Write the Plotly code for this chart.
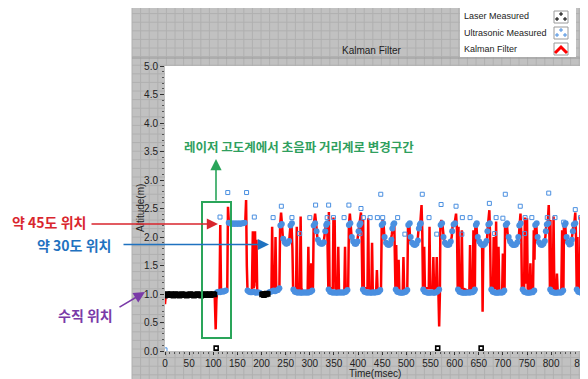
import plotly.graph_objects as go

# ---------------- data ----------------
series_names = ["Laser Measured", "Ultrasonic Measured", "Kalman Filter"]

# Kalman filter output: (time msec, altitude m)
kalman_pts = [
    (0, 0.82), (1.5, 0.97), (4, 1.0), (15, 0.99), (30, 1.0), (45, 0.99), (60, 1.0), (75, 0.99), (90, 1.0),
    (100, 0.99), (103, 0.97), (105, 0.38), (106.5, 0.9), (108, 1.02),
    (111, 1.03), (113, 1.05), (114.5, 2.21), (116, 1.1), (118, 1.03), (124, 1.04), (127, 1.05), (129, 1.1),
    (130.5, 2.53), (132, 2.3), (134, 2.24), (145, 2.23), (155, 2.24), (165, 2.25), (166.5, 2.3), (168, 2.65),
    (169.5, 1.5), (171, 1.05),
    (175, 1.03), (180, 1.05), (182, 2.1), (183.5, 1.1), (185, 1.15), (186.5, 2.1), (188, 1.2), (189.5, 1.95),
    (191, 1.05), (200, 1.02), (210, 1.01), (218, 1.03), (220.5, 1.05), (222, 2.18), (223.5, 1.1), (227.5, 1.1),
    (229, 2.0), (230.5, 1.05), (235, 1.05),
    (237, 1.1), (238.5, 2.2), (240.5, 2.43), (242.5, 2.2), (244.5, 1.95), (248, 1.88), (252, 1.86), (256, 1.9),
    (258, 2.0), (260, 2.21), (262, 2.24), (264, 1.8), (265.5, 1.05),
    (271.5, 1.05), (273, 2.18), (274.5, 1.1), (279.5, 1.08), (281, 2.36), (282.5, 1.1), (286, 1.03),
    (295.5, 1.05), (297, 1.83), (298.5, 1.05), (301.5, 1.05), (303, 1.54), (304.5, 1.05),
    (306.5, 1.1), (308, 2.2), (311, 2.41), (313.5, 2.2), (316, 1.95), (320, 1.89), (325, 1.87), (329, 1.92),
    (331, 2.05), (333, 2.21), (336, 2.24), (337.5, 1.5), (338.5, 1.05),
    (339.5, 2.44), (341, 1.1), (347.5, 1.1), (349, 2.34), (350.5, 1.5), (351.5, 2.3), (353, 1.1), (357.5, 1.05),
    (359, 1.83), (360.5, 1.05), (371.5, 1.05), (373, 1.83), (374.5, 1.05), (378, 1.05),
    (379.5, 1.1), (381, 2.2), (383, 2.41), (385, 2.2), (387, 1.95), (391, 1.88), (395, 1.86), (398, 1.9),
    (400, 2.05), (402, 2.21), (404, 2.25), (406, 2.43), (407.5, 2.0), (409, 1.05),
    (410.5, 2.3), (412, 1.1), (419.5, 1.1), (421, 2.33), (422.5, 1.1), (427.5, 1.05), (429, 1.9), (430.5, 1.05),
    (437.5, 1.05), (439, 1.42), (440.5, 1.05), (446, 1.05),
    (447.5, 1.1), (449, 2.2), (451, 2.3), (453, 2.2), (455, 1.95), (459, 1.88), (463, 1.86), (467, 1.9),
    (470, 2.05), (472, 2.21), (475, 2.24), (476.5, 1.6), (477.5, 1.05),
    (479, 1.86), (480.5, 1.1), (482.5, 1.1), (484, 1.6), (485.5, 1.05), (492.5, 1.05), (494, 1.65),
    (495.5, 1.05), (501, 1.05),
    (502, 1.1), (503.5, 2.2), (506, 2.24), (508, 1.95), (512, 1.88), (516, 1.86), (521, 1.89), (524, 2.0),
    (526, 2.21), (529, 2.25), (531.5, 2.56), (533, 2.1), (534.5, 1.05),
    (537, 1.83), (538.5, 1.1), (546.5, 1.1), (548, 2.18), (549.5, 1.1), (554.5, 1.1), (556, 1.65), (557.5, 1.05),
    (561.5, 1.05), (563, 1.65), (564.5, 1.05), (566.5, 1.0), (568, 0.43), (569.5, 1.0),
    (570.5, 2.2), (572.5, 2.3), (575, 2.2), (578, 1.95), (582, 1.88), (586, 1.86), (591, 1.9), (594, 2.0),
    (596, 2.21), (600, 2.24), (603, 2.41), (605, 2.1), (606.5, 1.05),
    (608, 2.18), (609.5, 1.1), (613.5, 1.1), (615, 2.12), (616.5, 1.1), (630.5, 1.05), (632, 1.86), (633.5, 1.05),
    (637.5, 1.05), (639, 2.12), (640.5, 1.1), (642, 1.1),
    (643, 2.2), (645, 2.24), (647, 1.95), (651, 1.88), (655, 1.86), (657, 1.85), (658, 0.69), (659.5, 1.85),
    (663, 1.88), (667, 1.95), (669, 2.2), (672, 2.47), (673.5, 2.0), (675, 1.05),
    (679.5, 1.1), (681, 2.0), (682.5, 1.1), (684.5, 1.1), (686, 2.27), (687.5, 1.1), (689.5, 1.05), (691, 1.83),
    (692.5, 1.05), (698.5, 1.05), (700, 1.71), (701.5, 1.05), (703.5, 1.05),
    (704.5, 2.2), (708, 2.24), (711, 1.95), (716, 1.88), (722, 1.86), (728, 1.88), (733, 2.0), (735, 2.24),
    (736.5, 2.41), (738, 2.1), (739.5, 1.05),
    (744, 1.1), (745.5, 2.34), (747, 1.2), (748.5, 1.2), (750, 2.33), (751.5, 1.1), (755.5, 1.05), (757, 1.54),
    (758.5, 1.05), (762.5, 1.05), (764, 2.12), (765.5, 1.6),
    (766.5, 2.2), (769, 2.24), (771, 1.95), (775, 1.88), (780, 1.86), (785, 1.89), (788, 2.0), (790, 2.21),
    (793, 2.25), (795, 2.56), (796.5, 2.0), (797.5, 1.05),
    (798.5, 2.3), (800, 1.1), (803.5, 1.1), (805, 2.36), (806.5, 1.1), (810.5, 1.05), (812, 1.36), (813.5, 1.05),
    (821, 1.05), (822.8, 2.12), (824.5, 1.1), (825.5, 1.1),
    (826.5, 2.2), (829, 2.24), (831, 1.95), (835, 1.88), (838, 1.86), (842, 1.92), (844, 2.05), (846, 2.21),
    (848, 2.24), (850, 2.43), (851.5, 2.0), (853, 1.05),
    (854.5, 2.0), (856, 1.1), (859.5, 1.1), (861, 2.36), (862.5, 1.1), (866, 1.05),
]

# Ultrasonic measured: dense clusters (time, altitude)
ultra_dense_pts = [
    (108, 1.03), (111, 1.04), (114, 1.03), (117, 1.05), (120, 1.04), (123, 1.05), (126, 1.06),
    (132, 2.25), (135, 2.24), (138, 2.23), (141, 2.24), (144, 2.23), (147, 2.24), (150, 2.23), (153, 2.24),
    (156, 2.23), (159, 2.24), (162, 2.24), (165, 2.25),
    (171, 1.06), (174, 1.04), (177, 1.03), (180, 1.03), (183, 1.04), (186, 1.03), (189, 1.02), (192, 1.03),
    (196, 1.02), (216, 1.03), (219, 1.04), (222, 1.05), (225, 1.06), (228, 1.05), (231, 1.06), (234, 1.07),
    (237, 1.1),
    (239, 2.2), (242, 2.23), (245, 1.97), (248, 1.91), (251, 1.88), (254, 1.89), (257, 1.93), (260, 2.2), (263, 2.24),
    (266, 1.08), (269, 1.04), (272, 1.03), (275, 1.02), (278, 1.03), (281, 1.02), (284, 1.02), (287, 1.03),
    (290, 1.02), (293, 1.03), (296, 1.02), (299, 1.03), (302, 1.04), (305, 1.06),
    (308, 2.2), (311, 2.24), (314, 2.1), (317, 1.95), (320, 1.9), (323, 1.88), (326, 1.88), (329, 1.91),
    (332, 2.1), (334, 2.21), (336, 2.24),
    (339, 1.08), (342, 1.04), (345, 1.03), (348, 1.02), (351, 1.03), (354, 1.02), (357, 1.02), (360, 1.03),
    (363, 1.02), (366, 1.03), (369, 1.02), (372, 1.03), (375, 1.04), (378, 1.07),
    (381, 2.21), (384, 2.24), (387, 2.0), (390, 1.92), (393, 1.88), (396, 1.88), (399, 1.92), (401, 2.1),
    (403, 2.21), (405, 2.24),
    (410, 1.08), (413, 1.04), (416, 1.03), (419, 1.02), (422, 1.03), (425, 1.02), (428, 1.02), (431, 1.03),
    (434, 1.02), (437, 1.03), (440, 1.03), (443, 1.04), (446, 1.07),
    (449, 2.21), (452, 2.24), (455, 2.0), (458, 1.9), (461, 1.87), (464, 1.86), (467, 1.88), (469, 1.95),
    (471, 2.15), (473, 2.22), (475, 2.24),
    (478, 1.08), (481, 1.04), (484, 1.03), (487, 1.02), (490, 1.02), (493, 1.02), (496, 1.03), (499, 1.04),
    (502, 1.07),
    (504, 2.21), (507, 2.24), (509, 2.0), (512, 1.9), (515, 1.87), (518, 1.86), (521, 1.88), (524, 1.94),
    (526, 2.15), (528, 2.22), (530, 2.24),
    (535, 1.08), (538, 1.04), (541, 1.03), (544, 1.02), (547, 1.02), (550, 1.02), (553, 1.03), (556, 1.02),
    (559, 1.02), (562, 1.03), (565, 1.05), (568, 1.08),
    (571, 2.21), (574, 2.24), (577, 2.0), (580, 1.9), (583, 1.87), (586, 1.86), (589, 1.87), (592, 1.92),
    (595, 2.1), (598, 2.22), (601, 2.24),
    (607, 1.08), (610, 1.04), (613, 1.03), (616, 1.02), (619, 1.02), (622, 1.02), (625, 1.02), (628, 1.03),
    (631, 1.02), (634, 1.03), (637, 1.03), (640, 1.05), (642, 1.08),
    (644, 2.21), (646, 2.24), (648, 2.0), (651, 1.92), (654, 1.88), (657, 1.86), (660, 1.86), (663, 1.88),
    (666, 1.93), (668, 2.1), (670, 2.22), (673, 2.24),
    (676, 1.08), (679, 1.04), (682, 1.03), (685, 1.02), (688, 1.02), (691, 1.02), (694, 1.03), (697, 1.02),
    (700, 1.03), (703, 1.06),
    (706, 2.21), (709, 2.24), (712, 2.0), (715, 1.92), (718, 1.88), (721, 1.86), (724, 1.86), (727, 1.87),
    (730, 1.91), (732, 2.0), (734, 2.2), (737, 2.24),
    (741, 1.08), (744, 1.04), (747, 1.03), (750, 1.02), (753, 1.02), (756, 1.02), (759, 1.03), (762, 1.03),
    (765, 1.06),
    (767, 2.21), (770, 2.24), (772, 2.0), (775, 1.91), (778, 1.87), (781, 1.86), (784, 1.88), (787, 1.93),
    (789, 2.1), (791, 2.22), (794, 2.24),
    (798, 1.08), (801, 1.04), (804, 1.03), (807, 1.02), (810, 1.02), (813, 1.02), (816, 1.03), (819, 1.02),
    (822, 1.03), (825, 1.06),
    (828, 2.21), (830, 2.24), (832, 2.0), (835, 1.91), (838, 1.87), (841, 1.88), (843, 1.95), (845, 2.1),
    (847, 2.22), (850, 2.24),
    (853, 1.08), (856, 1.04), (859, 1.03), (862, 1.02), (865, 1.02),
]

# Ultrasonic measured: isolated readings (time, altitude)
ultra_outlier_pts = [
    (0, 0.02), (114, 2.35), (130, 2.78), (169, 2.78), (185, 2.35), (224, 2.34), (241, 2.54), (263, 2.34),
    (279, 2.06), (300, 2.34), (312, 2.56), (336, 2.34), (339, 2.56), (349, 2.34), (371, 2.34), (381, 2.56),
    (404, 2.06), (406, 2.5), (411, 2.34), (425, 2.34), (440, 2.34), (447, 2.75), (451, 2.34), (482, 2.34),
    (497, 2.05), (533, 2.75), (547, 2.34), (563, 2.05), (572, 2.57), (603, 2.54), (615, 2.05), (616, 2.34),
    (632, 2.34), (672, 2.59), (683, 2.06), (686, 2.34), (700, 2.33), (705, 2.75), (736, 2.54), (745, 2.06),
    (746, 2.34), (760, 2.34), (792, 2.34), (795, 2.77), (808, 2.34), (826, 2.26), (850, 2.48), (861, 2.34),
]

# Laser measured (time, altitude)
laser_pts = [
    (0, 0.97), (2.5, 0.99), (5, 1.0), (7.5, 0.98), (10, 0.99), (12.5, 1.0), (15, 0.98), (17.5, 0.97),
    (20, 0.99), (22.5, 1.0), (25, 0.99), (27.5, 0.98), (30, 0.97), (32.5, 0.98), (35, 1.0), (37.5, 0.99),
    (40, 0.98), (42.5, 0.99), (45, 0.97), (47.5, 0.98), (50, 0.99), (52.5, 1.0), (55, 0.98), (57.5, 0.99),
    (60, 0.97), (62.5, 0.98), (65, 0.99), (67.5, 1.0), (70, 0.99), (72.5, 0.98), (75, 0.97), (77.5, 0.99),
    (80, 0.98), (82.5, 1.0), (85, 0.99), (87.5, 0.98), (90, 0.99), (92.5, 1.0), (95, 0.98), (97.5, 0.99),
    (100, 1.0), (102.5, 0.99),
    (201, 0.99), (203, 1.0), (205, 0.98), (207, 1.0), (209, 0.99), (211, 1.01), (213, 1.0),
    (106, 0.05), (565, 0.05), (655, 0.05),
]

x_tick_vals = [0, 50, 100, 150, 200, 250, 300, 350, 400, 450, 500, 550, 600, 650, 700, 750, 800, 865]
y_tick_vals = [0, 0.5, 1.0, 1.5, 2.0, 2.5, 3.0, 3.5, 4.0, 4.5, 5.0]

# ---------------- layout helpers (page pixel -> paper) ----------------
PAGE_W, PAGE_H = 588, 379
OFF = 8  # default body margin of the html page
W, H = PAGE_W - OFF, PAGE_H - OFF
L, R, T, B = 165, 583, 66, 351  # plot area in page pixels


def px(x):
    return (x - L) / (R - L)


def py(y):
    return (B - y) / (B - T)


def xs(pts):
    return [p[0] for p in pts]


def ys(pts):
    return [p[1] for p in pts]


RED = "#ff0000"
BLUE = "#4a8fe0"
GREEN = "#2aa55a"
FONT = "Liberation Sans"
KFONT = "Noto Sans CJK KR"

fig = go.Figure()
fig.add_trace(go.Scatter(x=xs(kalman_pts), y=ys(kalman_pts), mode="lines", name=series_names[2],
                         line=dict(color=RED, width=2.5), showlegend=False))
fig.add_trace(go.Scatter(x=xs(ultra_dense_pts), y=ys(ultra_dense_pts), mode="markers", name=series_names[1],
                         marker=dict(symbol="circle", size=6, color=BLUE), showlegend=False))
fig.add_trace(go.Scatter(x=xs(ultra_outlier_pts), y=ys(ultra_outlier_pts), mode="markers", name=series_names[1],
                         marker=dict(symbol="square-open", size=4, color=BLUE, line=dict(width=1)),
                         showlegend=False))
fig.add_trace(go.Scatter(x=xs(laser_pts), y=ys(laser_pts), mode="markers", name=series_names[0],
                         marker=dict(symbol="square-open", size=4, color="#000000", line=dict(width=1.6)),
                         showlegend=False))

shapes = []
# gray LabVIEW-like frame
shapes.append(dict(type="rect", xref="paper", yref="paper", x0=px(132), x1=px(592), y0=py(383), y1=py(5),
                   fillcolor="#c1c1c1", line=dict(width=0), layer="below"))
gx = 132.0
while gx < 588:
    shapes.append(dict(type="line", xref="paper", yref="paper", x0=px(gx), x1=px(gx), y0=py(383), y1=py(5),
                       line=dict(color="#b0b0b0", width=1), layer="below"))
    gx += 8.6
gy = 5.0
while gy < 380:
    shapes.append(dict(type="line", xref="paper", yref="paper", x0=px(132), x1=px(592), y0=py(gy), y1=py(gy),
                       line=dict(color="#b0b0b0", width=1), layer="below"))
    gy += 8.6
shapes.append(dict(type="line", xref="paper", yref="paper", x0=px(132), x1=px(592), y0=py(58), y1=py(58),
                   line=dict(color="#9a9a9a", width=1), layer="below"))
# white plotting area
shapes.append(dict(type="rect", xref="paper", yref="paper", x0=0, x1=1, y0=0, y1=1,
                   fillcolor="white", line=dict(width=0), layer="below"))
# legend box
shapes.append(dict(type="rect", xref="paper", yref="paper", x0=px(460), x1=px(576), y0=py(57), y1=py(8),
                   fillcolor="white", line=dict(width=0), layer="below"))
for top in (11, 27, 43):
    shapes.append(dict(type="rect", xref="paper", yref="paper", x0=px(554), x1=px(568), y0=py(top + 12),
                       y1=py(top), fillcolor="white", line=dict(color="#9a9a9a", width=1), layer="below"))
for (cx, cy, col) in [(557, 19, "#000000"), (561, 14, "#000000"), (565, 19, "#000000"),
                      (557, 35, BLUE), (561, 30, BLUE), (565, 35, BLUE)]:
    shapes.append(dict(type="rect", xref="paper", yref="paper", x0=px(cx - 1), x1=px(cx + 1),
                       y0=py(cy + 1), y1=py(cy - 1), line=dict(color=col, width=1), layer="below"))
shapes.append(dict(type="path", xref="paper", yref="paper",
                   path="M {} {} L {} {} L {} {}".format(px(555), py(53), px(561), py(47), px(567), py(53)),
                   line=dict(color=RED, width=3), layer="below"))
# green highlighted interval
shapes.append(dict(type="rect", xref="paper", yref="paper", x0=px(202), x1=px(231), y0=py(338), y1=py(202),
                   line=dict(color=GREEN, width=2), layer="above"))
fig.update_layout(shapes=shapes)


def label(text, x, y, size, color, family=FONT, xanchor="center", angle=0):
    return dict(text=text, x=px(x), y=py(y), xref="paper", yref="paper", showarrow=False,
                xanchor=xanchor, yanchor="middle", textangle=angle,
                font=dict(family=family, size=size, color=color))


ann = []
ann.append(label("Kalman Filter", 372, 50, 10, "#222"))
ann.append(label("Altitude(m)", 140, 208, 10, "#222", angle=-90))
ann.append(label("Time(msec)", 375, 373, 10, "#222"))
for name, yy in zip(series_names, (16, 33, 49)):
    ann.append(label(name, 462, yy, 9, "#222", xanchor="left"))
ann.append(label("<b>레이저 고도계에서 초음파 거리계로 변경구간</b>", 182, 146, 12.5, "#2f9f5e", family=KFONT,
                 xanchor="left"))
ann.append(label("<b>약 45도 위치</b>", 49, 222, 14, "#d9262e", family=KFONT))
ann.append(label("<b>약 30도 위치</b>", 74, 245, 14, "#1f72c0", family=KFONT))
ann.append(label("<b>수직 위치</b>", 85, 315, 14, "#7a3aa8", family=KFONT))
for (tx, ty, hx, hy, col) in [(90, 224, 218, 224, "#d9262e"), (122, 244.5, 269, 244.5, "#1f72c0"),
                              (118, 308, 145, 292, "#7a3aa8"), (216, 202, 216, 159, GREEN)]:
    ann.append(dict(text="", x=px(hx), y=py(hy), xref="paper", yref="paper", showarrow=True,
                    ax=tx - hx, ay=ty - hy, arrowhead=2, arrowsize=1.4, arrowwidth=1.6, arrowcolor=col,
                    standoff=0, startstandoff=0))
fig.update_layout(annotations=ann)

fig.update_layout(
    width=W, height=H,
    margin=dict(l=L - OFF, r=PAGE_W - R, t=T - OFF, b=PAGE_H - B, autoexpand=False),
    paper_bgcolor="white", plot_bgcolor="rgba(0,0,0,0)",
    showlegend=False,
    xaxis=dict(range=[0, 866], tickmode="array", tickvals=x_tick_vals, ticktext=[str(v) for v in x_tick_vals],
               showgrid=False, zeroline=False, showline=False, ticks="outside", ticklen=3, tickcolor="#333",
               ticklabeloverflow="allow", automargin=False,
               tickfont=dict(family=FONT, size=10, color="#222"),
               minor=dict(tickmode="linear", tick0=0, dtick=10, ticks="outside", ticklen=2, tickcolor="#555")),
    yaxis=dict(range=[0, 5], tickmode="array", tickvals=y_tick_vals, ticktext=["%.1f" % v for v in y_tick_vals],
               showgrid=False, zeroline=False, showline=False, ticks="outside", ticklen=4, tickcolor="#333",
               automargin=False,
               tickfont=dict(family=FONT, size=10, color="#222"),
               minor=dict(tickmode="linear", tick0=0, dtick=0.1, ticks="outside", ticklen=2, tickcolor="#555")),
)

fig.write_html("out.html")
